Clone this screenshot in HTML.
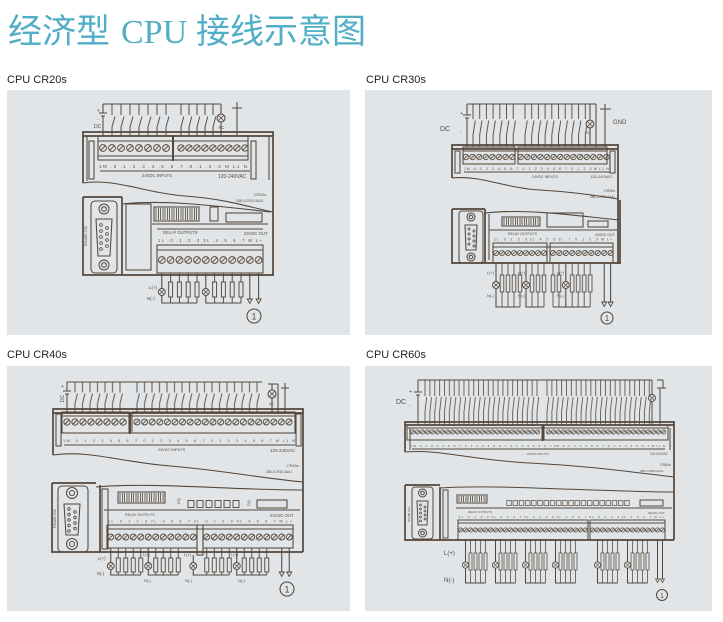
<!DOCTYPE html>
<html><head><meta charset="utf-8">
<style>
html,body{margin:0;padding:0;background:#fff;}
svg{display:block;}
svg text{stroke:none;}
.t{font-family:"Liberation Sans",sans-serif;fill:#5a4c40;}
</style></head><body>
<svg width="723" height="622" viewBox="0 0 723 622" xmlns="http://www.w3.org/2000/svg" xmlns:xlink="http://www.w3.org/1999/xlink">
<defs>
<pattern id="s9" width="9" height="10" patternUnits="userSpaceOnUse"><g fill="none" stroke="#54463a" stroke-width=".95"><circle cx="4.5" cy="5" r="3.4"/><path d="M2.3 7.2L6.7 2.8"/></g></pattern>
<pattern id="s8" width="8" height="10" patternUnits="userSpaceOnUse"><g fill="none" stroke="#54463a" stroke-width=".95"><circle cx="4" cy="5" r="3.2"/><path d="M2 7L6 3"/></g></pattern>
<pattern id="s88" width="8.8" height="10" patternUnits="userSpaceOnUse"><g fill="none" stroke="#54463a" stroke-width=".95"><circle cx="4.4" cy="5" r="3.4"/><path d="M2.2 7.2L6.6 2.8"/></g></pattern>
<pattern id="s76" width="7.6" height="10" patternUnits="userSpaceOnUse"><g fill="none" stroke="#54463a" stroke-width=".9"><circle cx="3.8" cy="5" r="3"/><path d="M1.9 6.9L5.7 3.1"/></g></pattern>
<pattern id="s75" width="7.5" height="10" patternUnits="userSpaceOnUse"><g fill="none" stroke="#54463a" stroke-width=".9"><circle cx="3.75" cy="5" r="3"/><path d="M1.85 6.9L5.65 3.1"/></g></pattern>
<pattern id="s66" width="6.6" height="10" patternUnits="userSpaceOnUse"><g fill="none" stroke="#54463a" stroke-width=".85"><circle cx="3.3" cy="5" r="2.7"/><path d="M1.6 6.7L5 3.3"/></g></pattern>
<pattern id="s64" width="6.4" height="10" patternUnits="userSpaceOnUse"><g fill="none" stroke="#54463a" stroke-width=".85"><circle cx="3.2" cy="5" r="2.6"/><path d="M1.5 6.7L4.9 3.3"/></g></pattern>
<pattern id="s6" width="6" height="10" patternUnits="userSpaceOnUse"><g fill="none" stroke="#54463a" stroke-width=".85"><circle cx="3" cy="5" r="2.5"/><path d="M1.4 6.6L4.6 3.4"/></g></pattern>
<pattern id="s5" width="5" height="10" patternUnits="userSpaceOnUse"><g fill="none" stroke="#54463a" stroke-width=".75"><circle cx="2.5" cy="5" r="2.1"/><path d="M1.1 6.4L3.9 3.6"/></g></pattern>

<pattern id="wA9" width="9" height="32" patternUnits="userSpaceOnUse"><path fill="none" stroke="#54463a" stroke-width=".95" d="M4.5 0V11M4.5 23L7.5 12.5M4.5 23V32"/></pattern>
<pattern id="wA8" width="8" height="32" patternUnits="userSpaceOnUse"><path fill="none" stroke="#54463a" stroke-width=".95" d="M4 0V11M4 23L6.8 12.5M4 23V32"/></pattern>
<pattern id="wB" width="6.7" height="43" patternUnits="userSpaceOnUse"><path fill="none" stroke="#54463a" stroke-width=".9" d="M3.35 0V15M3.35 31L5.6 16.5M3.35 31V43"/></pattern>
<pattern id="wC" width="7.5" height="30" patternUnits="userSpaceOnUse"><path fill="none" stroke="#54463a" stroke-width=".9" d="M3.75 0V10.5M3.75 21.5L6.2 11.5M3.75 21.5V30"/></pattern>
<pattern id="wD" width="4.87" height="45" patternUnits="userSpaceOnUse"><path fill="none" stroke="#54463a" stroke-width=".8" d="M2.435 0V16M2.435 32L4.1 17M2.435 32V45"/></pattern>

<pattern id="lA" width="8.8" height="30" patternUnits="userSpaceOnUse"><g fill="none" stroke="#54463a" stroke-width=".95"><path d="M4.4 0V9M4.4 24V30"/><rect x="2.4" y="9" width="4" height="15"/></g></pattern>
<pattern id="lB" width="6" height="44" patternUnits="userSpaceOnUse"><g fill="none" stroke="#54463a" stroke-width=".85"><path d="M3 0V12M3 29V44"/><rect x="1.2" y="12" width="3.6" height="17"/></g></pattern>
<pattern id="lC" width="7.5" height="27" patternUnits="userSpaceOnUse"><g fill="none" stroke="#54463a" stroke-width=".9"><path d="M3.75 0V10M3.75 24V27"/><rect x="1.75" y="10" width="4" height="14"/></g></pattern>
<pattern id="lD" width="5" height="43" patternUnits="userSpaceOnUse"><g fill="none" stroke="#54463a" stroke-width=".75"><path d="M2.5 0V13M2.5 30V43"/><rect x="1" y="13" width="3" height="17"/></g></pattern>

<pattern id="tk" width="4.5" height="30" patternUnits="userSpaceOnUse"><path fill="none" stroke="#54463a" stroke-width=".8" d="M1 0V30M3.5 0V30"/></pattern>
<pattern id="sq9" width="9" height="8" patternUnits="userSpaceOnUse"><rect x="1.5" y=".5" width="6" height="7" fill="none" stroke="#54463a" stroke-width=".9"/></pattern>
<pattern id="sq6" width="6.2" height="6" patternUnits="userSpaceOnUse"><rect x=".8" y=".5" width="4.6" height="5" fill="none" stroke="#54463a" stroke-width=".7"/></pattern>

<g id="lamp"><circle r="3.5" fill="#e1e5e8" stroke="#54463a" stroke-width=".9"/><path d="M-2.3 -2.3L2.3 2.3M-2.3 2.3L2.3 -2.3" stroke="#54463a" stroke-width=".7"/></g>
<path id="tri" d="M-2.5 0H2.5L0 4.5Z" fill="none" stroke="#54463a" stroke-width=".9"/>
</defs>

<rect width="723" height="622" fill="#fff"/>

<!-- Title -->
<text y="43" fill="#50aec6" font-size="34"><tspan x="8" font-family="'Noto Sans CJK SC',sans-serif">经济型</tspan><tspan x="121" font-family="'Liberation Serif',serif">CPU</tspan><tspan x="196" font-family="'Noto Sans CJK SC',sans-serif">接线示意图</tspan></text>

<!-- Panel labels -->
<g font-family="'Liberation Sans',sans-serif" font-size="11" fill="#231f20">
<text x="7" y="83">CPU CR20s</text>
<text x="366" y="83">CPU CR30s</text>
<text x="7" y="358">CPU CR40s</text>
<text x="366" y="358">CPU CR60s</text>
</g>

<!-- Panels -->
<g fill="#e1e5e8">
<rect x="7" y="90" width="343" height="245"/>
<rect x="365" y="90" width="347" height="245"/>
<rect x="7" y="366" width="343" height="245"/>
<rect x="365" y="366" width="347" height="245"/>
</g>

<!-- ============ CR20s ============ -->
<g fill="none" stroke="#54463a" stroke-width="1.05">
<path d="M103 104H221 M103 104V113 M99 113H107 M101 116H105 M103 116V136"/>
<g transform="translate(107.5,104)"><rect width="63" height="32" fill="url(#wA9)" stroke="none"/></g>
<g transform="translate(177,104)"><rect width="40" height="32" fill="url(#wA8)" stroke="none"/></g>
<path d="M221 104V136 M237 102V136 M232 108H242"/>
<use href="#lamp" xlink:href="#lamp" transform="translate(221,118) scale(1.15)"/>
<text class="t" x="94" y="128" font-size="5">DC</text>
<text class="t" x="97" y="112" font-size="5">+</text>
<text class="t" x="97" y="121" font-size="5">-</text>
<text class="t" x="218" y="129" font-size="4.5">AC</text>

<path stroke-width="1.7" d="M83 183V132H273V276 M83 136H273"/>
<path d="M87 136V181 M269 136V180"/>
<rect x="98" y="136" width="150" height="24"/>
<path d="M98 141H248 M98 156H248"/>
<path stroke-width="2" d="M173 136V161"/>
<rect x="89" y="141" width="5" height="38"/>
<rect x="251" y="141" width="5" height="38"/>
<g transform="translate(98.5,143)"><rect width="72" height="10" fill="url(#s9)" stroke="none"/></g>
<g transform="translate(177,143)"><rect width="72" height="10" fill="url(#s8)" stroke="none"/></g>
<text class="t" x="99" y="168" font-size="4.5" textLength="148" lengthAdjust="spacing">1M .0 .1 .2 .3 .4 .5 .6 .7 .0 .1 .2 .3 M L1 N</text>
<path d="M100 171H250"/>
<text class="t" x="142" y="177" font-size="4.2">24VDC INPUTS</text>
<text class="t" x="218" y="178" font-size="5">120-240VAC</text>
<path d="M83 183C115 178 145 193 185 196S245 206 273 212"/>
<text class="t" x="254" y="196" font-size="4">CR20s</text>
<text class="t" x="236" y="202" font-size="3.5">288-1CR20-0AA1</text>

<path stroke-width="1.7" d="M83 197H122 M83 197V275H273 M122 197V275"/>
<path d="M122 204C165 199 225 207 271 212"/>
<rect x="91" y="201" width="26" height="72" rx="4"/>
<circle cx="104" cy="209" r="5"/><circle cx="104" cy="209" r="2.3"/>
<circle cx="104" cy="265" r="5"/><circle cx="104" cy="265" r="2.3"/>
<path d="M96 219H112L110 256H98Z"/>
<g stroke-width=".8"><circle cx="101" cy="225" r="1.4"/><circle cx="101" cy="231" r="1.4"/><circle cx="101" cy="237" r="1.4"/><circle cx="101" cy="243" r="1.4"/><circle cx="101" cy="249" r="1.4"/><circle cx="107" cy="228" r="1.4"/><circle cx="107" cy="234" r="1.4"/><circle cx="107" cy="240" r="1.4"/><circle cx="107" cy="246" r="1.4"/></g>
<text class="t" font-size="4" transform="translate(87,246) rotate(-90)">RS485 232</text>
<rect x="126" y="204" width="25" height="66"/>
<rect x="154" y="207" width="45" height="14"/>
<g transform="translate(155,208)"><rect width="43" height="12" fill="url(#tk)" stroke="none"/></g>
<rect x="210" y="207" width="8" height="14"/>
<rect x="226" y="213" width="36" height="9"/>
<path d="M152 224H268 M157 229H263"/>
<text class="t" x="163" y="234" font-size="4.2">RELAY OUTPUTS</text>
<text class="t" x="244" y="235" font-size="4.2">24VDC OUT</text>
<text class="t" x="158" y="242" font-size="4.2" textLength="104" lengthAdjust="spacing">1L .0 .1 .2 .3 2L .4 .5 .6 .7 M L+</text>
<rect x="157" y="245" width="106" height="28"/>
<path d="M157 250H263"/>
<g transform="translate(157.4,255)"><rect width="105.6" height="10" fill="url(#s88)" stroke="none"/></g>

<g transform="translate(166.2,273)"><rect width="35.2" height="30" fill="url(#lA)" stroke="none"/></g>
<g transform="translate(210.2,273)"><rect width="35.2" height="30" fill="url(#lA)" stroke="none"/></g>
<path d="M161.8 273V303H197 M205.8 273V303H241 M249.8 273V299 M258.6 273V299"/>
<use href="#lamp" xlink:href="#lamp" x="161.8" y="292"/>
<use href="#lamp" xlink:href="#lamp" x="205.8" y="292"/>
<use href="#tri" xlink:href="#tri" x="249.8" y="299"/>
<use href="#tri" xlink:href="#tri" x="258.6" y="299"/>
<text class="t" x="149" y="289" font-size="4.5">L(+)</text>
<text class="t" x="147" y="300" font-size="4.5">N(-)</text>
<circle cx="254" cy="316" r="7"/>
<text class="t" x="254" y="319.5" font-size="9" text-anchor="middle">1</text>
</g>

<!-- ============ CR30s ============ -->
<g fill="none" stroke="#54463a" stroke-width="1.05">
<path d="M467 104H596 M467 104V115 M463 115H471 M465 118H469 M467 118V147"/>
<g transform="translate(469.65,104)"><rect width="46.9" height="43" fill="url(#wB)" stroke="none"/></g>
<g transform="translate(521.65,104)"><rect width="67" height="43" fill="url(#wB)" stroke="none"/></g>
<path d="M590 104V145 M596 104V147 M605 104V147 M600 109H611"/>
<use href="#lamp" xlink:href="#lamp" transform="translate(590,124) scale(1.1)"/>
<text class="t" x="440" y="131" font-size="7">DC</text>
<text class="t" x="460" y="115" font-size="5">+</text>
<text class="t" x="460" y="134" font-size="5">-</text>
<text class="t" x="613" y="124" font-size="6">GND</text>
<text class="t" x="585" y="134" font-size="4">AC</text>

<path stroke-width="1.7" d="M452 178V145H618V264 M452 149H618"/>
<rect x="463" y="147" width="52" height="17"/><rect x="518" y="147" width="89" height="17"/>
<path d="M463 151H607"/>
<rect x="455" y="151" width="5" height="22"/><rect x="610" y="151" width="5" height="22"/>
<g transform="translate(462.7,152)"><rect width="52.8" height="10" fill="url(#s66)" stroke="none"/></g>
<g transform="translate(517.4,152)"><rect width="92.4" height="10" fill="url(#s66)" stroke="none"/></g>
<text class="t" x="464" y="170" font-size="3.6" textLength="145" lengthAdjust="spacing">1M .0 .1 .2 .3 .4 .5 .6 .7 .0 .1 .2 .3 .4 .5 .6 .7 .0 .1 .2 .3 M L1 N</text>
<path d="M464 172H610"/>
<text class="t" x="532" y="178" font-size="3.6">24VDC INPUTS</text>
<text class="t" x="590" y="178" font-size="4">120-240VAC</text>
<path d="M452 178C480 175 505 188 540 190S600 196 618 199"/>
<text class="t" x="604" y="192" font-size="3.6">CR30s</text>
<text class="t" x="590" y="198" font-size="3.2">288-1CR30-0AA1</text>

<path stroke-width="1.7" d="M452 209H485 M452 209V263H620 M485 209V263 M620 200V264"/>
<path d="M485 213C530 208 585 217 620 220"/>
<rect x="459" y="211" width="24" height="52" rx="3"/>
<circle cx="471" cy="217" r="4"/><circle cx="471" cy="217" r="1.8"/>
<circle cx="471" cy="257" r="4"/><circle cx="471" cy="257" r="1.8"/>
<path d="M465 225H477L476 250H466Z"/>
<g stroke-width=".7"><circle cx="469" cy="229" r="1.1"/><circle cx="469" cy="234" r="1.1"/><circle cx="469" cy="239" r="1.1"/><circle cx="469" cy="244" r="1.1"/><circle cx="474" cy="231" r="1.1"/><circle cx="474" cy="236" r="1.1"/><circle cx="474" cy="241" r="1.1"/><circle cx="474" cy="246" r="1.1"/></g>
<path d="M489 214V260"/>
<rect x="502" y="217" width="38" height="9"/>
<g transform="translate(503,218)"><rect width="36" height="7" fill="url(#tk)" stroke="none"/></g>
<rect x="547" y="213" width="36" height="14"/>
<rect x="588" y="221" width="20" height="6"/>
<path d="M489 230H618"/>
<text class="t" x="508" y="235" font-size="3.5">RELAY OUTPUTS</text>
<text class="t" x="595" y="236" font-size="3.5">24VDC OUT</text>
<text class="t" x="494" y="240.5" font-size="3.5" textLength="118" lengthAdjust="spacing">1L .0 .1 .2 .3 2L .4 .5 .6 3L .7 .0 .1 .2 .3 M L+</text>
<rect x="493" y="243" width="54" height="20"/><rect x="550" y="243" width="63" height="20"/>
<path d="M493 247H613"/>
<g transform="translate(493,248)"><rect width="54" height="10" fill="url(#s6)" stroke="none"/></g>
<g transform="translate(549.8,248)"><rect width="64" height="10" fill="url(#s64)" stroke="none"/></g>

<g transform="translate(499,263)"><rect width="24" height="44" fill="url(#lB)" stroke="none"/></g>
<g transform="translate(529,263)"><rect width="18" height="44" fill="url(#lB)" stroke="none"/></g>
<g transform="translate(550,263)"><rect width="12" height="44" fill="url(#lB)" stroke="none"/></g>
<g transform="translate(569.2,263)"><rect width="24" height="44" fill="url(#lB)" stroke="none"/></g>
<path d="M496 263V307H520 M526 263V307H544 M565.8 263V307 M553 307H590.2 M604.2 263V302 M610.6 263V302"/>
<use href="#lamp" xlink:href="#lamp" x="496" y="285"/>
<use href="#lamp" xlink:href="#lamp" x="526" y="285"/>
<use href="#lamp" xlink:href="#lamp" x="565.8" y="285"/>
<use href="#tri" xlink:href="#tri" x="604.2" y="302"/>
<use href="#tri" xlink:href="#tri" x="610.6" y="302"/>
<text class="t" x="487" y="274" font-size="4">L(+)</text>
<text class="t" x="487" y="297" font-size="4">N(-)</text>
<text class="t" x="518" y="274" font-size="4">L(+)</text>
<text class="t" x="518" y="297" font-size="4">N(-)</text>
<text class="t" x="557" y="274" font-size="4">L(+)</text>
<text class="t" x="557" y="297" font-size="4">N(-)</text>
<circle cx="607" cy="318" r="6"/>
<text class="t" x="607" y="321" font-size="8" text-anchor="middle">1</text>
</g>

<!-- ============ CR40s ============ -->
<g fill="none" stroke="#54463a" stroke-width="1.05">
<path d="M67 382H262 M67 382V391 M63 391H71 M65 394H69 M67 394V412"/>
<g transform="translate(71.25,382)"><rect width="52.5" height="30" fill="url(#wC)" stroke="none"/></g>
<g transform="translate(133.25,382)"><rect width="127.5" height="30" fill="url(#wC)" stroke="none"/></g>
<path d="M268 384H278 M272 384V412 M278 384V412 M285 383V412 M281 388H289"/>
<use href="#lamp" xlink:href="#lamp" transform="translate(272,394) scale(1.15)"/>
<text class="t" font-size="5" transform="translate(64,402) rotate(-90)">DC</text>
<text class="t" x="61" y="388" font-size="5">+</text>
<text class="t" x="269" y="405" font-size="4">AC</text>

<path stroke-width="1.7" d="M53 455V409H303V552 M53 413H303"/>
<rect x="56" y="414" width="5" height="32"/><rect x="296" y="414" width="5" height="32"/>
<rect x="62" y="412" width="67" height="21"/><rect x="132" y="412" width="163" height="21"/>
<path d="M62 416H295"/><path stroke-width="2" d="M130 412V434"/>
<g transform="translate(63,417)"><rect width="64" height="10" fill="url(#s8)" stroke="none"/></g>
<g transform="translate(133.2,417)"><rect width="159.6" height="10" fill="url(#s76)" stroke="none"/></g>
<text class="t" x="63" y="442" font-size="3.8" textLength="232" lengthAdjust="spacing">1M .0 .1 .2 .3 .4 .5 .6 .7 .0 .1 .2 .3 .4 .5 .6 .7 .0 .1 .2 .3 .4 .5 .6 .7 M L1 N</text>
<path d="M64 445H295"/>
<text class="t" x="158" y="451" font-size="3.8">24VDC INPUTS</text>
<text class="t" x="270" y="452" font-size="4.5">120-240VAC</text>
<path d="M53 455C90 450 120 462 170 466S260 478 303 482"/>
<text class="t" x="287" y="467" font-size="3.8">CR40s</text>
<text class="t" x="266" y="473" font-size="3.3">288-1CR40-0AA1</text>

<path stroke-width="1.7" d="M52 483H96 M52 483V552H303 M100 485V552"/>
<path d="M96 487C150 482 230 490 303 490"/>
<rect x="58" y="486" width="30" height="66" rx="4"/>
<circle cx="72" cy="493" r="5.5"/><circle cx="72" cy="493" r="2.5"/>
<circle cx="72" cy="544" r="5.5"/><circle cx="72" cy="544" r="2.5"/>
<path d="M64 504H80L78 535H66Z"/>
<g stroke-width=".8"><circle cx="69" cy="509" r="1.3"/><circle cx="69" cy="514.5" r="1.3"/><circle cx="69" cy="520" r="1.3"/><circle cx="69" cy="525.5" r="1.3"/><circle cx="69" cy="531" r="1.3"/><circle cx="75" cy="512" r="1.3"/><circle cx="75" cy="517.5" r="1.3"/><circle cx="75" cy="523" r="1.3"/><circle cx="75" cy="528.5" r="1.3"/></g>
<text class="t" font-size="3.8" transform="translate(56,528) rotate(-90)">RS485 232</text>
<rect x="102" y="489" width="6" height="60"/>
<rect x="118" y="492" width="47" height="11"/>
<g transform="translate(119,493)"><rect width="45" height="9" fill="url(#tk)" stroke="none"/></g>
<text class="t" font-size="3.8" transform="translate(180,504) rotate(-90)">DQ</text>
<g transform="translate(186.5,500)"><rect width="54" height="8" fill="url(#sq9)" stroke="none"/></g>
<text class="t" font-size="3.8" transform="translate(250,506) rotate(-90)">DQ</text>
<rect x="257" y="500" width="30" height="8"/>
<path d="M104 510H300"/>
<text class="t" x="125" y="516" font-size="3.6">RELAY OUTPUTS</text>
<text class="t" x="270" y="517" font-size="4.2">24VDC OUT</text>
<text class="t" x="108" y="522.5" font-size="3.6" textLength="184" lengthAdjust="spacing">1L .0 .1 .2 .3 2L .4 .5 .6 .7 3L .0 .1 .2 .3 4L .4 .5 .6 .7 M L+</text>
<rect x="107" y="525" width="90" height="23"/><rect x="203" y="525" width="90" height="23"/>
<path d="M107 529H293"/>
<rect x="197" y="525" width="6" height="30"/>
<g transform="translate(107,532)"><rect width="90" height="10" fill="url(#s75)" stroke="none"/></g>
<g transform="translate(203,532)"><rect width="90" height="10" fill="url(#s75)" stroke="none"/></g>

<g transform="translate(114.5,548)"><rect width="30" height="27" fill="url(#lC)" stroke="none"/></g>
<g transform="translate(152,548)"><rect width="30" height="27" fill="url(#lC)" stroke="none"/></g>
<g transform="translate(203,548)"><rect width="30" height="27" fill="url(#lC)" stroke="none"/></g>
<g transform="translate(240.5,548)"><rect width="30" height="27" fill="url(#lC)" stroke="none"/></g>
<path d="M110.75 548V575H140.75 M148.25 548V575H178.25 M193.25 555V575H229.25 M236.75 548V575H266.75 M281.75 548V572 M289.25 548V572"/>
<use href="#lamp" xlink:href="#lamp" x="110.75" y="566"/>
<use href="#lamp" xlink:href="#lamp" x="148.25" y="566"/>
<use href="#lamp" xlink:href="#lamp" x="193.25" y="566"/>
<use href="#lamp" xlink:href="#lamp" x="236.75" y="566"/>
<use href="#tri" xlink:href="#tri" x="281.75" y="572"/>
<use href="#tri" xlink:href="#tri" x="289.25" y="572"/>
<text class="t" x="98" y="560" font-size="4.2">L(+)</text>
<text class="t" x="97" y="575" font-size="4.2">N(-)</text>
<text class="t" x="143" y="556" font-size="4">L(+)</text>
<text class="t" x="144" y="582" font-size="4">N(-)</text>
<text class="t" x="184" y="556" font-size="4">L(+)</text>
<text class="t" x="185" y="582" font-size="4">N(-)</text>
<text class="t" x="231" y="556" font-size="4">L(+)</text>
<text class="t" x="238" y="582" font-size="4">N(-)</text>
<circle cx="287" cy="589" r="7"/>
<text class="t" x="287" y="592.5" font-size="9" text-anchor="middle">1</text>
</g>

<!-- ============ CR60s ============ -->
<g fill="none" stroke="#54463a" stroke-width="1">
<path d="M418 380H652 M418 380V392 M414 392H422 M416 395H420 M418 395V425"/>
<g transform="translate(422.57,380)"><rect width="116.88" height="45" fill="url(#wD)" stroke="none"/></g>
<g transform="translate(544.57,380)"><rect width="107.14" height="45" fill="url(#wD)" stroke="none"/></g>
<path d="M652 380V425 M657 380H663 M663 380V388 M660 388V425 M657 388H666"/>
<use href="#lamp" xlink:href="#lamp" x="652" y="398"/>
<text class="t" x="396" y="404" font-size="7">DC</text>
<text class="t" x="409" y="393" font-size="5">+</text>
<text class="t" x="409" y="407" font-size="5">-</text>

<path stroke-width="1.7" d="M405 452V422H674V540 M405 425H674"/>
<rect x="407" y="425" width="135" height="15"/><rect x="544" y="425" width="124" height="15"/>
<path d="M407 428H668"/><path stroke-width="2" d="M542.5 425V441"/>
<path d="M410 428V450 M670 428V450"/>
<g transform="translate(410,427)"><rect width="130" height="10" fill="url(#s5)" stroke="none"/></g>
<g transform="translate(546,427)"><rect width="120" height="10" fill="url(#s5)" stroke="none"/></g>
<text class="t" x="411" y="447" font-size="2.9" textLength="254" lengthAdjust="spacing">1M .0 .1 .2 .3 .4 .5 .6 .7 .0 .1 .2 .3 .4 .5 .6 .7 .0 .1 .2 .3 .4 .5 .6 .7 2M .0 .1 .2 .3 .4 .5 .6 .7 .0 .1 .2 .3 .4 .5 .6 .7 M L1 N</text>
<path d="M412 449H665"/>
<text class="t" x="527" y="455" font-size="3">24VDC INPUTS</text>
<text class="t" x="650" y="455" font-size="3.2">120-240VAC</text>
<path d="M405 452C440 449 470 460 530 463S630 472 674 477"/>
<text class="t" x="660" y="466" font-size="3.5">CR60s</text>
<text class="t" x="640" y="472" font-size="3">288-1CR60-0AA1</text>

<path stroke-width="1.7" d="M405 485H440 M405 485V540H674 M440 487V540"/>
<path d="M440 488C500 484 600 492 674 492"/>
<rect x="412" y="487" width="21" height="52" rx="3"/>
<circle cx="422.5" cy="493" r="4"/><circle cx="422.5" cy="493" r="1.8"/>
<circle cx="422.5" cy="533" r="4"/><circle cx="422.5" cy="533" r="1.8"/>
<path d="M417 501H428L427 525H418Z"/>
<g stroke-width=".7"><circle cx="420.5" cy="505" r="1"/><circle cx="420.5" cy="509" r="1"/><circle cx="420.5" cy="513" r="1"/><circle cx="420.5" cy="517" r="1"/><circle cx="420.5" cy="521" r="1"/><circle cx="425" cy="507" r="1"/><circle cx="425" cy="511" r="1"/><circle cx="425" cy="515" r="1"/><circle cx="425" cy="519" r="1"/></g>
<text class="t" font-size="3" transform="translate(410,522) rotate(-90)">RS485 232</text>
<rect x="443" y="490" width="5" height="48"/>
<rect x="457" y="495" width="30" height="8"/>
<g transform="translate(458,496)"><rect width="28" height="6" fill="url(#tk)" stroke="none"/></g>
<g transform="translate(506,500)"><rect width="124" height="6" fill="url(#sq6)" stroke="none"/></g>
<rect x="640" y="500" width="23" height="6"/>
<path d="M456 508H672"/>
<text class="t" x="468" y="513" font-size="2.9">RELAY OUTPUTS</text>
<text class="t" x="648" y="514" font-size="3">24VDC OUT</text>
<text class="t" x="459" y="518" font-size="2.9" textLength="205" lengthAdjust="spacing">1L .0 .1 .2 .3 2L .4 .5 .6 .7 3L .0 .1 .2 .3 4L .4 .5 .6 .7 5L .0 .1 .2 .3 6L .4 .5 .6 .7 M L+</text>
<rect x="458" y="520" width="130" height="20"/><rect x="590" y="520" width="75" height="20"/>
<path d="M458 523H665"/>
<g transform="translate(458,525)"><rect width="130" height="10" fill="url(#s5)" stroke="none"/></g>
<g transform="translate(590,525)"><rect width="75" height="10" fill="url(#s5)" stroke="none"/></g>

<g transform="translate(468,540)"><rect width="20" height="43" fill="url(#lD)" stroke="none"/></g>
<g transform="translate(498,540)"><rect width="20" height="43" fill="url(#lD)" stroke="none"/></g>
<g transform="translate(528,540)"><rect width="20" height="43" fill="url(#lD)" stroke="none"/></g>
<g transform="translate(558,540)"><rect width="20" height="43" fill="url(#lD)" stroke="none"/></g>
<g transform="translate(600,540)"><rect width="20" height="43" fill="url(#lD)" stroke="none"/></g>
<g transform="translate(630,540)"><rect width="20" height="43" fill="url(#lD)" stroke="none"/></g>
<path d="M465.5 540V583H485.5 M495.5 540V583H515.5 M525.5 540V583H545.5 M555.5 540V583H575.5 M597.5 540V583H617.5 M627.5 540V583H647.5 M657.5 540V579 M662.5 540V579"/>
<use href="#lamp" xlink:href="#lamp" transform="translate(465.5,565) scale(.9)"/>
<use href="#lamp" xlink:href="#lamp" transform="translate(495.5,565) scale(.9)"/>
<use href="#lamp" xlink:href="#lamp" transform="translate(525.5,565) scale(.9)"/>
<use href="#lamp" xlink:href="#lamp" transform="translate(555.5,565) scale(.9)"/>
<use href="#lamp" xlink:href="#lamp" transform="translate(597.5,565) scale(.9)"/>
<use href="#lamp" xlink:href="#lamp" transform="translate(627.5,565) scale(.9)"/>
<use href="#tri" xlink:href="#tri" transform="translate(657.5,579) scale(.8)"/>
<use href="#tri" xlink:href="#tri" transform="translate(662.5,579) scale(.8)"/>
<text class="t" x="444" y="555" font-size="6">L(+)</text>
<text class="t" x="444" y="582" font-size="6">N(-)</text>
<circle cx="662" cy="595" r="5.5"/>
<text class="t" x="662" y="598" font-size="7" text-anchor="middle">1</text>
</g>
</svg>
</body></html>
